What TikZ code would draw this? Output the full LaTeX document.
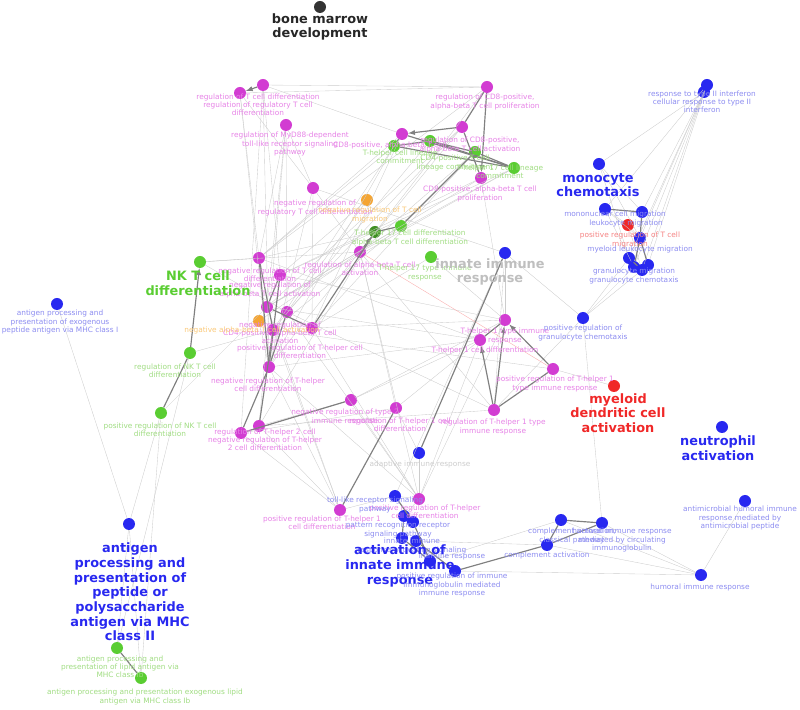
\documentclass[tikz,border=0pt]{standalone}
\usepackage{fontspec}
\setmainfont{DejaVu Sans}
\definecolor{mag}{RGB}{210,60,210}
\definecolor{magl}{RGB}{230,130,230}
\definecolor{grn}{RGB}{90,205,50}
\definecolor{grnl}{RGB}{160,220,130}
\definecolor{blu}{RGB}{40,40,240}
\definecolor{blul}{RGB}{140,140,240}
\definecolor{orn}{RGB}{245,165,50}
\definecolor{ornl}{RGB}{250,200,120}
\definecolor{rd}{RGB}{240,40,40}
\definecolor{rdl}{RGB}{245,130,130}
\tikzset{
  dot/.style={circle, fill=#1, inner sep=0pt, minimum size=3.6mm},
  lbl/.style={text=#1, font=\fontsize{6.3}{7}\selectfont, align=center, inner sep=0pt},
  big/.style={text=#1, font=\fontsize{11}{12.5}\selectfont\bfseries, align=center, inner sep=0pt},
  edge/.style={draw=black!20, line width=0.3pt},
  strong/.style={draw=black!50, line width=1pt},
}
\begin{document}
\begin{tikzpicture}[x=0.03cm, y=-0.03cm]
  \useasboundingbox (0,0) rectangle (800,710);
  % nodes
  \node[dot=black!80] (bm) at (320,7) {};
  \node[dot=mag] (m1) at (240,93) {};
  \node[dot=mag] (m2) at (263,85) {};
  \node[dot=mag] (m3) at (286,125) {};
  \node[dot=mag] (m4) at (313,188) {};
  \node[dot=mag] (m5) at (487,87) {};
  \node[dot=mag] (m6) at (462,127) {};
  \node[dot=mag] (m7) at (402,134) {};
  \node[dot=mag] (m8) at (481,178) {};
  \node[dot=mag] (m9) at (360,252) {};
  \node[dot=mag] (m10) at (259,258) {};
  \node[dot=mag] (m11) at (280,275) {};
  \node[dot=mag] (m12) at (267,307) {};
  \node[dot=mag] (m13) at (287,312) {};
  \node[dot=mag] (m14) at (273,330) {};
  \node[dot=mag] (m15) at (312,328) {};
  \node[dot=mag] (m16) at (269,367) {};
  \node[dot=mag] (m17) at (351,400) {};
  \node[dot=mag] (m18) at (396,408) {};
  \node[dot=mag] (m19) at (259,426) {};
  \node[dot=mag] (m20) at (241,433) {};
  \node[dot=mag] (m21) at (505,320) {};
  \node[dot=mag] (m22) at (480,340) {};
  \node[dot=mag] (m23) at (553,369) {};
  \node[dot=mag] (m24) at (494,410) {};
  \node[dot=mag] (m25) at (340,510) {};
  \node[dot=mag] (m26) at (419,499) {};
  \node[dot=grn] (g1) at (394,146) {};
  \node[dot=grn] (g2) at (430,141) {};
  \node[dot=grn] (g3) at (475,152) {};
  \node[dot=grn] (g4) at (514,168) {};
  \node[dot=grn] (g5) at (401,226) {};
  \node[dot=grn!70!black] (g6) at (375,232) {};
  \node[dot=grn] (g7) at (431,257) {};
  \node[dot=grn] (g8) at (200,262) {};
  \node[dot=grn] (g9) at (190,353) {};
  \node[dot=grn] (g10) at (161,413) {};
  \node[dot=grn] (g11) at (117,648) {};
  \node[dot=grn] (g12) at (141,678) {};
  \node[dot=orn] (o1) at (367,200) {};
  \node[dot=orn] (o2) at (259,321) {};
  \node[dot=rd] (r1) at (628,225) {};
  \node[dot=rd] (r2) at (614,386) {};
  \node[dot=blu] (b1) at (707,85) {};
  \node[dot=blu] (b2) at (704,92) {};
  \node[dot=blu] (b3) at (599,164) {};
  \node[dot=blu] (b4) at (605,209) {};
  \node[dot=blu] (b5) at (642,212) {};
  \node[dot=blu] (b6) at (640,238) {};
  \node[dot=blu] (b7) at (629,258) {};
  \node[dot=blu] (b8) at (634,267) {};
  \node[dot=blu] (b9) at (642,270) {};
  \node[dot=blu] (b10) at (648,265) {};
  \node[dot=blu] (b11) at (583,318) {};
  \node[dot=blu] (b12) at (505,253) {};
  \node[dot=blu] (b13) at (722,427) {};
  \node[dot=blu] (b14) at (57,304) {};
  \node[dot=blu] (b15) at (129,524) {};
  \node[dot=blu] (b16) at (419,453) {};
  \node[dot=blu] (b17) at (395,496) {};
  \node[dot=blu] (b18) at (404,516) {};
  \node[dot=blu] (b19) at (413,522) {};
  \node[dot=blu] (b20) at (402,538) {};
  \node[dot=blu] (b21) at (416,541) {};
  \node[dot=blu] (b22) at (430,561) {};
  \node[dot=blu] (b23) at (455,571) {};
  \node[dot=blu] (b24) at (561,520) {};
  \node[dot=blu] (b25) at (602,523) {};
  \node[dot=blu] (b26) at (547,545) {};
  \node[dot=blu] (b27) at (745,501) {};
  \node[dot=blu] (b28) at (701,575) {};
  % light edges
  \foreach \a/\b in {m1/m5,m2/m5,m1/m10,m2/m16,m1/m16,m2/m11,m3/m13,m3/m12,m3/m4,m4/m9,m4/m15,
    m2/m7,m1/m4,m3/m19,m2/m20,m5/m9,m6/m9,m6/m12,m7/m10,m7/m15,m8/m21,m8/m12,g1/m10,g1/m16,g2/m14,
    g3/m15,g4/m12,g4/m11,g5/m12,g5/m14,g6/m10,g6/m16,g6/m19,g7/m15,g7/m21,g8/m13,g8/m9,g8/m10,
    g9/m14,g10/m12,m9/m24,m9/m18,m10/m22,m11/m21,m12/m22,m13/m24,m14/m23,m15/m21,m16/m22,
    m17/m21,m17/m22,m18/m22,m19/m24,m20/m18,m19/m17,m20/m17,m25/m16,m25/m12,m25/m14,m26/m16,m26/m13,
    m26/m15,m26/m22,m26/m9,m26/m21,m25/m19,m25/m20,m26/m17,b16/m26,b16/m18,b12/m21,b12/m4,
    b12/b17,b12/b11,b12/m24,b3/b2,b4/b1,b5/b2,b6/b1,b7/b2,b8/b1,b9/b2,b10/b1,b11/b7,b11/b8,b11/b9,
    b3/b5,b3/b6,b3/b7,b4/b6,b4/b8,r1/b4,r1/b6,r1/b9,b11/m24,b11/b25,r2/m23,b23/b28,b26/b28,
    b24/b28,b25/b28,b27/b28,b22/b24,b21/b26,b15/g11,b15/g12,b15/g10,b14/b15,g10/g12,g9/g11,
    b17/m25,b18/m26,b17/m26,m5/m10,m6/m13,m8/m11,m7/m14,g4/m9,g3/m9,o1/m11,o1/m13,o2/m9,o2/m16,
    m4/m16,m3/m10}
    \draw[edge] (\a) -- (\b);
  \draw[draw=rd!40, line width=0.3pt] (m9) -- (m23);
  % strong edges
  \foreach \a/\b in {g1/g4,g2/g4,m7/g4,g1/g2,m7/g1,g2/g3,g3/g4,b12/b16,m25/m18,m10/m16,m11/m16,
    m12/m15,m13/m16,m10/m14,m11/m12,m23/m24,m22/m21,b24/b25,b24/b26,b26/b25,b26/b23,b17/b19,
    b18/b20,b19/b22,b20/b22,b21/b23,b4/b5,b5/b6,b6/b8,b6/b10,b7/b9,g11/g12,g10/g9,m5/m6,
    m15/g6,m14/m19,m16/m20,g6/g5,g5/g3,m17/m20,m6/m8}
    \draw[strong] (\a) -- (\b);
  \draw[strong, -latex] (m5) -- (m8);
  \draw[strong, -latex] (m6) -- (m7);
  \draw[strong, -latex] (m2) -- (m1);
  \draw[strong, -latex] (g9) -- (g8);
  \draw[strong, -latex] (m24) -- (m21);
  \draw[strong, -latex] (m23) -- (m21);
  \draw[strong, -latex] (m24) -- (m22);
  \draw[strong, -latex] (m9) -- (g6);
  % labels
  \node[big=black!85] (bml) at (320,27) {bone marrow\\development};
  \node[lbl=magl] (m2l) at (258,105) {regulation of T cell differentiation\\regulation of regulatory T cell\\differentiation};
  \node[lbl=magl] (m3l) at (290,144) {regulation of MyD88-dependent\\toll-like receptor signaling\\pathway};
  \node[lbl=magl] (m4l) at (315,208) {negative regulation of\\regulatory T cell differentiation};
  \node[lbl=magl] (m5l) at (485,102) {regulation of CD8-positive,\\alpha-beta T cell proliferation};
  \node[lbl=magl] (m6l) at (470,145) {regulation of CD8-positive,\\alpha-beta T cell activation};
  \node[lbl=magl] (m8l) at (480,194) {CD8-positive, alpha-beta T cell\\proliferation};
  \node[lbl=magl] (m7l) at (390,145) {CD8-positive, alpha-beta T cell};
  \node[lbl=grnl] (g1l) at (400,157) {T-helper cell lineage\\commitment};
  \node[lbl=grnl] (g4l) at (500,172) {T-helper 17 cell lineage\\commitment};
  \node[lbl=grnl] (g3l) at (455,163) {CD4-positive T cell\\lineage commitment};
  \node[lbl=ornl] (o1l) at (370,215) {negative regulation of T cell\\migration};
  \node[lbl=grnl] (g5l) at (410,238) {T-helper 17 cell differentiation\\alpha-beta T cell differentiation};
  \node[lbl=magl] (m9l) at (360,269) {regulation of alpha-beta T cell\\activation};
  \node[lbl=grnl] (g7l) at (425,273) {T-helper 17 type immune\\response};
  \node[big=black!25] (b12l) at (490,272) {innate immune\\response};
  \node[lbl=magl] (m10l) at (270,275) {negative regulation of T cell\\differentiation};
  \node[lbl=magl] (m11l) at (270,290) {negative regulation of\\alpha-beta T cell activation};
  \node[lbl=magl] (m12l) at (280,333) {negative regulation of\\CD4-positive, alpha-beta T cell\\activation};
  \node[lbl=ornl] (o2l) at (252,330) {negative alpha-beta T cell activation};
  \node[lbl=magl] (m15l) at (300,352) {positive regulation of T-helper cell\\differentiation};
  \node[lbl=magl] (m16l) at (268,385) {negative regulation of T-helper\\cell differentiation};
  \node[big=grn] (g8l) at (198,283) {NK T cell\\differentiation};
  \node[lbl=grnl] (g9l) at (175,371) {regulation of NK T cell\\differentiation};
  \node[lbl=grnl] (g10l) at (160,430) {positive regulation of NK T cell\\differentiation};
  \node[lbl=magl] (m17l) at (345,417) {negative regulation of type 2\\immune response};
  \node[lbl=magl] (m18l) at (400,425) {regulation of T-helper 1 cell\\differentiation};
  \node[lbl=magl] (m19l) at (265,440) {regulation of T-helper 2 cell\\negative regulation of T-helper\\2 cell differentiation};
  \node[lbl=magl] (m21l) at (505,336) {T-helper 1 type immune\\response};
  \node[lbl=magl] (m22l) at (485,350) {T-helper 1 cell differentiation};
  \node[lbl=magl] (m23l) at (555,384) {positive regulation of T-helper 1\\type immune response};
  \node[lbl=magl] (m24l) at (493,427) {regulation of T-helper 1 type\\immune response};
  \node[lbl=black!20] (b16l) at (420,464) {adaptive immune response};
  \node[lbl=magl] (m25l) at (322,523) {positive regulation of T-helper 1\\cell differentiation};
  \node[lbl=magl] (m26l) at (425,512) {positive regulation of T-helper\\cell differentiation};
  \node[lbl=blul] (b17l) at (375,505) {toll-like receptor signaling\\pathway};
  \node[lbl=blul] (b18l) at (398,530) {pattern recognition receptor\\signaling pathway};
  \node[lbl=blul] (b20l) at (412,546) {innate immune\\response-activating signaling};
  \node[lbl=blul] (b21l) at (452,556) {immune response};
  \node[big=blu] (b20lb) at (400,566) {activation of\\innate immune\\response};
  \node[lbl=blul] (b23l) at (452,585) {positive regulation of immune\\immunoglobulin mediated\\immune response};
  \node[lbl=blul] (b24l) at (572,536) {complement activation,\\classical pathway};
  \node[lbl=blul] (b25l) at (622,540) {humoral immune response\\mediated by circulating\\immunoglobulin};
  \node[lbl=blul] (b26l) at (547,555) {complement activation};
  \node[lbl=blul] (b27l) at (740,518) {antimicrobial humoral immune\\response mediated by\\antimicrobial peptide};
  \node[lbl=blul] (b28l) at (700,587) {humoral immune response};
  \node[lbl=blul] (b1l) at (702,102) {response to type II interferon\\cellular response to type II\\interferon};
  \node[big=blu] (b3l) at (598,185) {monocyte\\chemotaxis};
  \node[lbl=blul] (b4l) at (615,219) {mononuclear cell migration\\\hspace*{3em}leukocyte migration};
  \node[lbl=rdl] (r1l) at (630,240) {positive regulation of T cell\\migration};
  \node[lbl=blul] (b6l) at (640,249) {myeloid leukocyte migration};
  \node[lbl=blul] (b7l) at (634,276) {granulocyte migration\\granulocyte chemotaxis};
  \node[lbl=blul] (b11l) at (583,333) {positive regulation of\\granulocyte chemotaxis};
  \node[big=rd] (r2l) at (618,413) {myeloid\\dendritic cell\\activation};
  \node[big=blu] (b13l) at (718,448) {neutrophil\\activation};
  \node[lbl=blul] (b14l) at (60,322) {antigen processing and\\presentation of exogenous\\peptide antigen via MHC class I};
  \node[big=blu] (b15l) at (130,592) {antigen\\processing and\\presentation of\\peptide or\\polysaccharide\\antigen via MHC\\class II};
  \node[lbl=grnl] (g11l) at (120,667) {antigen processing and\\presentation of lipid antigen via\\MHC class Ib};
  \node[lbl=grnl] (g12l) at (145,697) {antigen processing and presentation exogenous lipid\\antigen via MHC class Ib};
\end{tikzpicture}
\end{document}
